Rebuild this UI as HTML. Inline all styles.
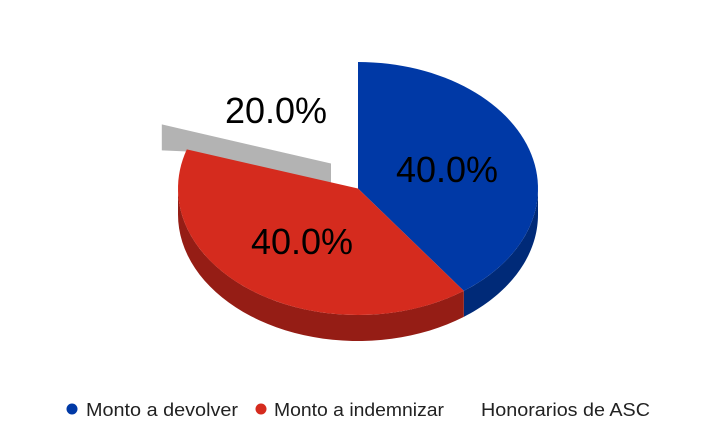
<!DOCTYPE html>
<html><head><meta charset="utf-8"><style>
body{margin:0;background:#fff;}
svg{display:block;font-family:"Liberation Sans",Arial,sans-serif;}
</style></head><body>
<svg width="716" height="443">
<g id="pie"></g>
<g>
<g><circle cx="72" cy="409" r="5.5" fill="#0039a6"/><text x="86" y="416" font-size="18.5" textLength="152" lengthAdjust="spacingAndGlyphs" fill="#222">Monto a devolver</text></g>
<g><circle cx="261" cy="409" r="5.5" fill="#d52b1e"/><text x="274" y="416" font-size="18.5" textLength="170" lengthAdjust="spacingAndGlyphs" fill="#222">Monto a indemnizar</text></g>
<g><text x="481" y="416" font-size="18.5" textLength="169" lengthAdjust="spacingAndGlyphs" fill="#222">Honorarios de ASC</text></g>
</g>
</svg>
<script>
const categories=["Monto a devolver","Monto a indemnizar","Honorarios de ASC"];
const values=[40,40,20];
const labels=["40.0%","40.0%","20.0%"];
const colors=["#0039a6","#d52b1e","#b3b3b3"];
const sideColors=["#002a78","#951d15","#999"];
const cx=358,cy=188.5,rx=180,ry=126.5,depth=26;
const NS="http://www.w3.org/2000/svg";
const g=document.getElementById('pie');
function pt(a,dy){const r=a*Math.PI/180;return [cx+rx*Math.sin(r),cy-ry*Math.cos(r)+(dy||0)];}
function mk(tag,attrs){const e=document.createElementNS(NS,tag);for(const k in attrs)e.setAttribute(k,attrs[k]);g.appendChild(e);return e;}
const total=values.reduce((a,b)=>a+b,0);
let angles=[],acc=0;
values.forEach(v=>{angles.push([acc/total*360,(acc+v)/total*360]);acc+=v;});
{
 const [a0]=angles[2];
 const off=[-25,-25];
 const p=pt(a0);
 const face=mk('polygon',{points:`${p[0]+off[0]},${p[1]+off[1]} ${cx-27},${cy-25} ${cx-27},${cy-4} ${p[0]+off[0]+23},${p[1]+off[1]+27} ${p[0]+off[0]},${p[1]+off[1]+26}`,fill:colors[2]});
 
 
}
for(let i=0;i<2;i++){
 let [a0,a1]=angles[i];
 const s=Math.max(a0,90),e=Math.min(a1,270);
 if(e<=s)continue;
 let d='';const N=40;
 for(let k=0;k<=N;k++){const p=pt(s+(e-s)*k/N);d+=(k?'L':'M')+p[0]+','+p[1];}
 for(let k=N;k>=0;k--){const p=pt(s+(e-s)*k/N,depth);d+='L'+p[0]+','+p[1];}
 const el=mk('path',{d:d+'Z',fill:sideColors[i]});
 
 
}
for(let i=0;i<2;i++){
 const [a0,a1]=angles[i];
 let d='M'+cx+','+cy;const N=60;
 for(let k=0;k<=N;k++){const p=pt(a0+(a1-a0)*k/N);d+='L'+p[0]+','+p[1];}
 const el=mk('path',{d:d+'Z',fill:colors[i]});
 
 
}
const labelPos=[[447,182],[302,254],[276,123]];
labels.forEach((t,i)=>{
 const el=mk('text',{x:labelPos[i][0],y:labelPos[i][1],'font-size':36,'text-anchor':'middle',fill:'#000'});
 el.textContent=t;
 
 
});
</script>
</body></html>
